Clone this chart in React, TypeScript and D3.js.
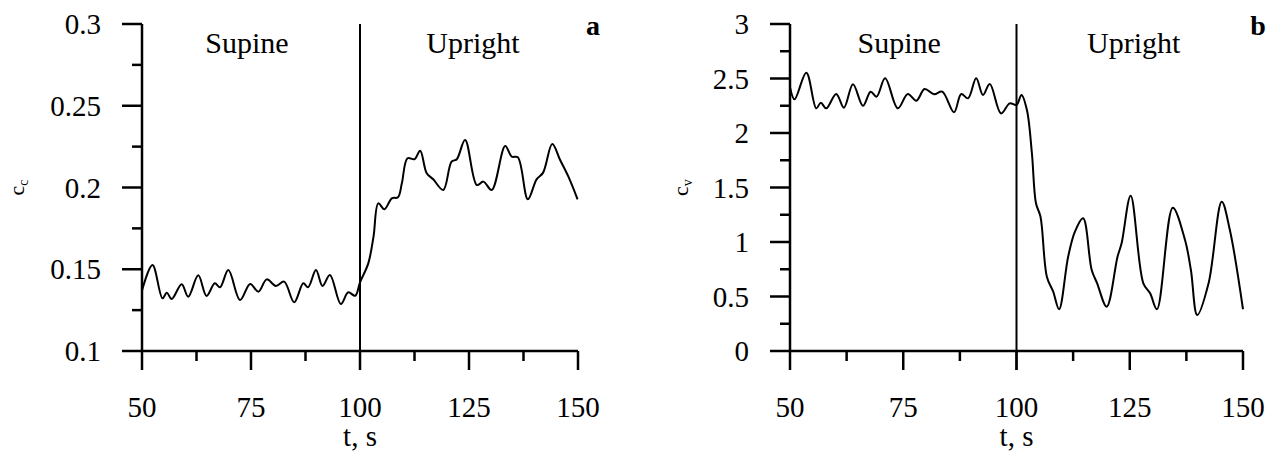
import React from 'react'
import * as d3 from 'd3'

// panel a: c_c over time
const aTime = [50, 52.4, 54.7, 55.7, 56.8, 59.1, 60.6, 62.9, 64.8, 66.7, 67.9, 69.8, 72.5, 74.8, 76.7, 78.6, 80.7, 82.6, 84.9, 87.0, 88.1, 89.9, 91.4, 93.1, 95.6, 97.3, 98.9, 100, 101.9, 103.1, 104.2, 105.6, 107.3, 108.7, 109.6, 110.9, 112.5, 113.8, 115.3, 116.8, 119.1, 121.0, 122.2, 124.1, 126.8, 128.3, 130.2, 133.3, 134.8, 136.2, 138.5, 140.5, 142.0, 144.1, 145.9, 147.8, 149.9]
const aValue = [0.137, 0.1526, 0.1322, 0.1357, 0.1318, 0.1408, 0.1332, 0.1463, 0.1337, 0.1414, 0.139, 0.1495, 0.1312, 0.141, 0.1363, 0.1438, 0.1398, 0.1424, 0.1298, 0.1414, 0.139, 0.1495, 0.1398, 0.1465, 0.1287, 0.1359, 0.1338, 0.142, 0.1536, 0.17, 0.1903, 0.1867, 0.1934, 0.194, 0.2026, 0.2179, 0.2173, 0.2225, 0.2087, 0.205, 0.1985, 0.2158, 0.2173, 0.2291, 0.2015, 0.2036, 0.1985, 0.2254, 0.2189, 0.2185, 0.1928, 0.205, 0.2091, 0.2266, 0.2168, 0.2066, 0.1928]

// panel b: c_v over time
const bTime = [50, 51.0, 53.6, 55.8, 56.8, 58.0, 60.2, 61.9, 63.9, 66.1, 67.8, 69.1, 71.0, 73.8, 76.0, 77.9, 79.7, 81.8, 83.6, 86.2, 87.8, 89.3, 91.1, 92.6, 94.1, 96.6, 98.5, 100.0, 101.1, 102.3, 103.4, 104.3, 105.3, 106.7, 108.1, 109.4, 111.4, 112.9, 114.7, 116.6, 117.8, 119.9, 122.3, 123.2, 125.2, 128.0, 129.5, 131.0, 134.5, 137.2, 138.5, 139.9, 142.4, 145.3, 147.1, 150.0]
const bValue = [2.42, 2.309, 2.553, 2.226, 2.278, 2.226, 2.358, 2.232, 2.447, 2.25, 2.379, 2.333, 2.502, 2.226, 2.358, 2.296, 2.404, 2.355, 2.379, 2.19, 2.358, 2.318, 2.502, 2.349, 2.45, 2.18, 2.272, 2.257, 2.349, 2.211, 1.814, 1.355, 1.232, 0.682, 0.544, 0.383, 0.865, 1.095, 1.217, 0.743, 0.621, 0.407, 0.865, 0.988, 1.425, 0.621, 0.529, 0.383, 1.315, 1.018, 0.743, 0.33, 0.621, 1.37, 1.11, 0.383]

const xTicks = [50, 75, 100, 125, 150]
const aYTicks = [0.1, 0.15, 0.2, 0.25, 0.3]
const bYTicks = [0, 0.5, 1, 1.5, 2, 2.5, 3]
const phaseLabels = ['Supine', 'Upright']
const switchTime = 100

const FONT = "'Liberation Serif', 'Times New Roman', Times, serif"

const Panel = ({ left, right, top, bottom, times, values, yTicks, letter, sub, labX }) => {
  const x = d3.scaleLinear().domain([50, 150]).range([left, right])
  const yMin = yTicks[0]
  const yMax = yTicks[yTicks.length - 1]
  const y = d3.scaleLinear().domain([yMin, yMax]).range([bottom, top])
  const step = yTicks[1] - yTicks[0]
  const yMinor = yTicks.slice(0, -1).map((t) => t + step / 2)
  const xMinor = xTicks.slice(0, -1).map((t) => t + 12.5)

  const line = d3
    .line()
    .x((d) => x(d[0]))
    .y((d) => y(d[1]))
    .curve(d3.curveCatmullRom.alpha(0.5))
  const pts = times.map((t, i) => [t, values[i]])

  const midY = (top + bottom) / 2
  const ts = { fontFamily: FONT }

  return (
    <g fill="#000">
      {/* axes */}
      <line x1={left} x2={right} y1={bottom} y2={bottom} stroke="#000" strokeWidth={2.5} />
      <line x1={left} x2={left} y1={top} y2={bottom} stroke="#000" strokeWidth={2.5} />
      {xTicks.map((t) => (
        <g key={`xt${t}`}>
          <line x1={x(t)} x2={x(t)} y1={bottom} y2={bottom + 19} stroke="#000" strokeWidth={2.5} />
          <text x={x(t)} y={bottom + 66} textAnchor="middle" fontSize={29} style={ts}>
            {t}
          </text>
        </g>
      ))}
      {xMinor.map((t) => (
        <line key={`xm${t}`} x1={x(t)} x2={x(t)} y1={bottom} y2={bottom + 10} stroke="#000" strokeWidth={2.5} />
      ))}
      {yTicks.map((t) => (
        <g key={`yt${t}`}>
          <line x1={left - 20} x2={left} y1={y(t)} y2={y(t)} stroke="#000" strokeWidth={2.5} />
          <text x={left - 41} y={y(t)} dy="0.35em" textAnchor="end" fontSize={29} style={ts}>
            {String(+t.toFixed(2))}
          </text>
        </g>
      ))}
      {yMinor.map((t) => (
        <line key={`ym${t}`} x1={left - 10} x2={left} y1={y(t)} y2={y(t)} stroke="#000" strokeWidth={2.5} />
      ))}
      {/* posture switch */}
      <line x1={x(switchTime)} x2={x(switchTime)} y1={top} y2={bottom + 19} stroke="#000" strokeWidth={2} />
      <text x={(left + x(switchTime)) / 2 - 4} y={top + 29} textAnchor="middle" fontSize={30} style={ts}>
        {phaseLabels[0]}
      </text>
      <text x={(x(switchTime) + right) / 2 + 4} y={top + 29} textAnchor="middle" fontSize={30} style={ts}>
        {phaseLabels[1]}
      </text>
      <text x={right + 15} y={top + 11} textAnchor="middle" fontSize={28} fontWeight="bold" style={ts}>
        {letter}
      </text>
      <path d={line(pts)} fill="none" stroke="#000" strokeWidth={2} />
      {/* axis titles */}
      <text x={(left + right) / 2} y={bottom + 95} textAnchor="middle" fontSize={29} style={ts}>
        t, s
      </text>
      <text transform={`translate(${labX},${midY}) rotate(-90)`} textAnchor="middle" fontSize={22} style={ts}>
        c
        <tspan fontSize={14} dy={4}>
          {sub}
        </tspan>
      </text>
    </g>
  )
}

const App = () => (
  <svg width={1285} height={458} style={{ position: 'absolute', left: 0, top: 0, background: '#fff', fontFamily: FONT }}>
    <rect width={1285} height={458} fill="#fff" />
    <Panel left={142} right={578} top={24} bottom={351} times={aTime} values={aValue} yTicks={aYTicks} letter="a" sub="c" labX={24} />
    <Panel left={790} right={1243} top={24} bottom={351} times={bTime} values={bValue} yTicks={bYTicks} letter="b" sub="v" labX={688} />
  </svg>
)

export default App
